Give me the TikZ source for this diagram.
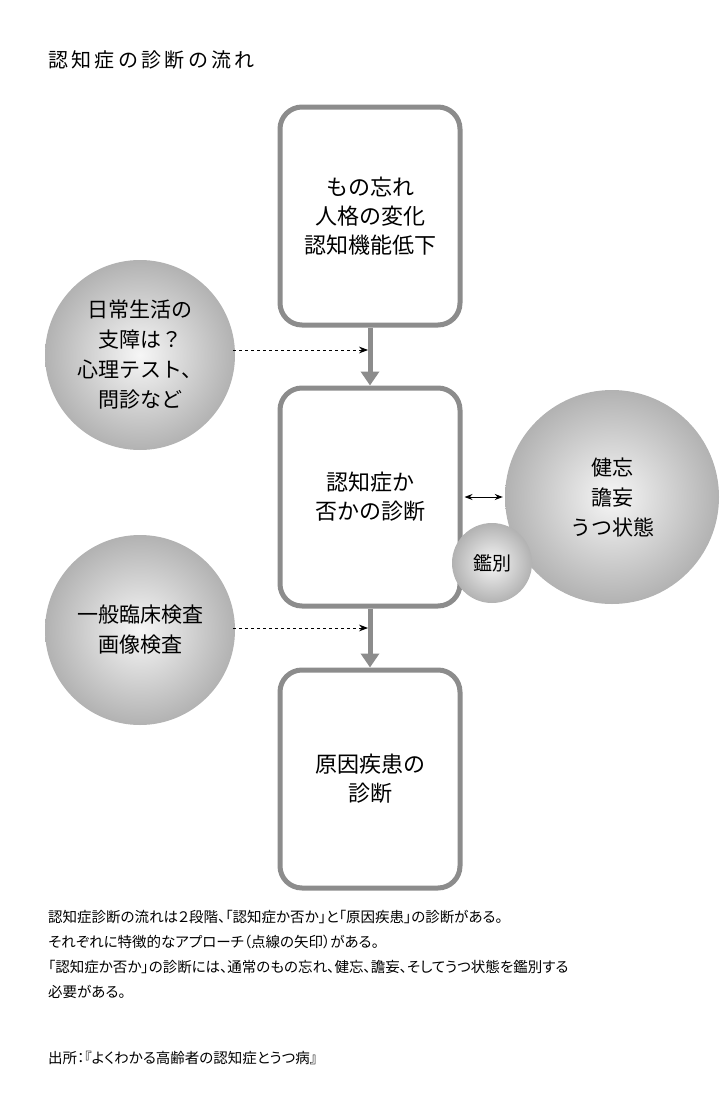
\documentclass[tikz,border=0pt]{standalone}
\usepackage{fontspec}
\setmainfont{Noto Sans CJK JP}
\newfontfamily\palt[RawFeature=+palt]{Noto Sans CJK JP}
\usetikzlibrary{arrows.meta,positioning,calc}
\definecolor{BoxClr}{RGB}{140,140,140}
\definecolor{BallOut}{RGB}{178,178,178}
\definecolor{BallIn}{RGB}{246,246,246}
\tikzset{
  stage/.style={draw=BoxClr,line width=5pt,rounded corners=22pt,minimum width=180pt,
    minimum height=218pt,align=center,font=\fontsize{22}{29}\selectfont},
  ball/.style={circle,shading=radial,inner color=BallIn,outer color=BallOut,
    align=center,font=\fontsize{21}{30}\selectfont,inner sep=0pt},
  flow/.style={BoxClr,line width=5pt,-{Triangle[length=14pt,width=18pt]}},
  hint/.style={black,dashed,line width=0.8pt,-{Stealth[length=9pt]}},
  note/.style={anchor=west,font=\palt\fontsize{14.5}{25}\selectfont,align=left,inner sep=0pt}
}
\begin{document}
\begin{tikzpicture}[x=1pt,y=-1pt]
\useasboundingbox (0,0) rectangle (726,1108);

\node[anchor=west,font=\fontsize{20}{22}\selectfont,inner sep=0pt] (title) at (48,60)
  {認\,知\,症\,の\,診\,断\,の\,流\,れ};

\node[stage] (sym) at (370,216) {もの忘れ\\人格の変化\\認知機能低下};
\node[stage] (judge) at (370,497) {認知症か\\否かの診断};
\node[stage] (cause) at (370,779) {原因疾患の\\診断};

\node[ball,minimum size=190pt] (life) at (140,355) {日常生活の\\支障は？\\心理テスト、\\問診など};
\node[ball,minimum size=190pt] (exam) at (140,630) {一般臨床検査\\画像検査};
\node[ball,minimum size=214pt] (other) at (612,497) {健忘\\譫妄\\うつ状態};
\node[ball,minimum size=80pt,font=\fontsize{19}{24}\selectfont] (diff) at (492,563) {鑑別};

\draw[flow] (sym.south) -- (judge.north);
\draw[flow] (judge.south) -- (cause.north);

\coordinate (in1) at (368,350);
\coordinate (in2) at (368,628);
\draw[hint] ($(life.east |- in1)+(-2,0)$) -- (in1);
\draw[hint] ($(exam.east |- in2)+(-2,0)$) -- (in2);

\draw[black,line width=1pt,{Stealth[length=8pt]}-{Stealth[length=8pt]}] ($(judge.east)+(2,0)$) -- ($(other.west)+(-2,0)$);

\node[note] (desc) at (48,954) {認知症診断の流れは２段階、「認知症か否か」と「原因疾患」の診断がある。\\
それぞれに特徴的なアプローチ（点線の矢印）がある。\\
「認知症か否か」の診断には、通常のもの忘れ、健忘、譫妄、そしてうつ状態を鑑別する\\
必要がある。};
\node[note] (src) at (48,1058) {出所：『よくわかる高齢者の認知症とうつ病』};
\end{tikzpicture}
\end{document}
